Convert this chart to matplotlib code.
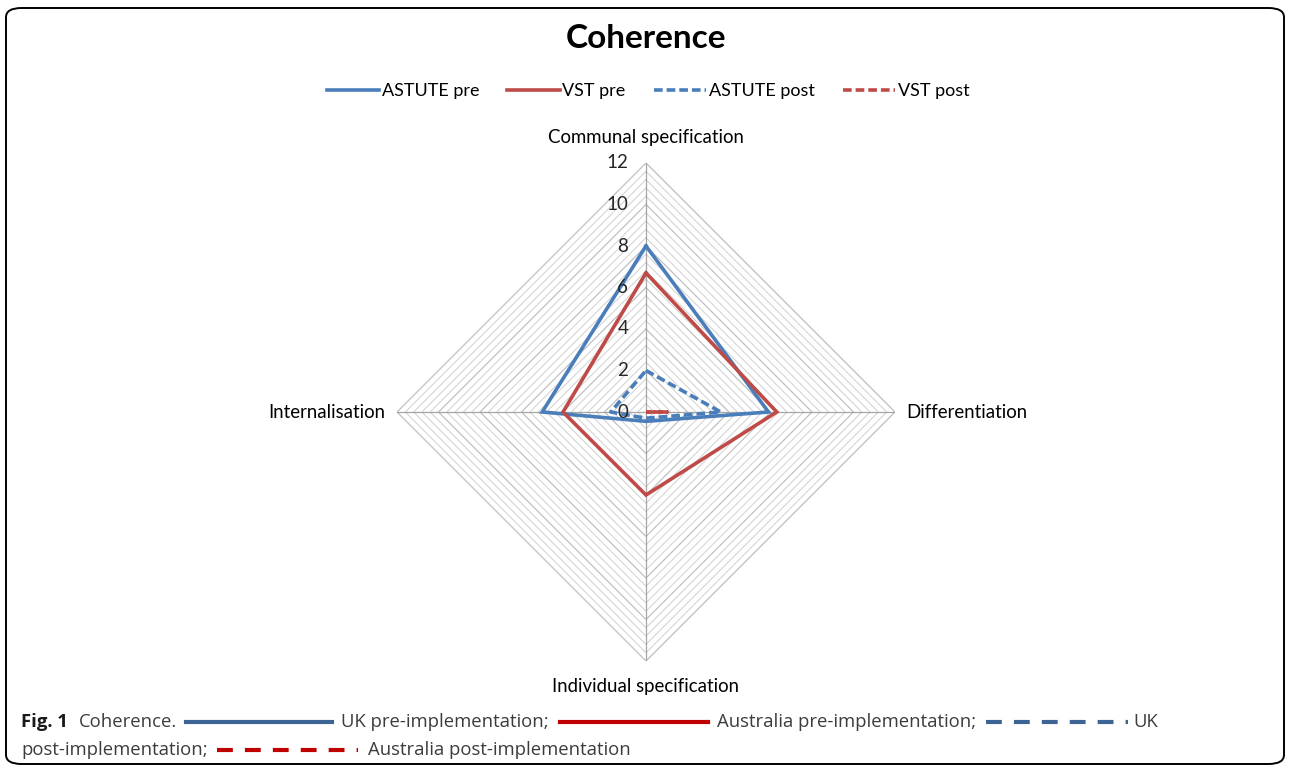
import numpy as np
import matplotlib.pyplot as plt
from matplotlib.lines import Line2D
from matplotlib.patches import FancyBboxPatch

# data
categories = ["Communal specification", "Differentiation",
              "Individual specification", "Internalisation"]
astute_pre = [8, 5.9, 0.45, 5.0]
vst_pre = [6.7, 6.3, 4.0, 4.0]
astute_post = [2.0, 3.6, 0.3, 1.7]
vst_post = [0, 1.0, 0, 0]
r_max = 12
r_major = [0, 2, 4, 6, 8, 10, 12]

series = [
    ("ASTUTE pre", astute_pre, "#4A7EBB", "-"),
    ("VST pre", vst_pre, "#BE4B48", "-"),
    ("ASTUTE post", astute_post, "#4A7EBB", (0, (2.4, 1.1))),
    ("VST post", vst_post, "#BE4B48", (0, (2.4, 1.1))),
]

plt.rcParams["font.family"] = ["Lato", "DejaVu Sans"]

# spokes clockwise from top
ang = np.deg2rad([90, 0, -90, 180])
ca, sa = np.cos(ang), np.sin(ang)

def xy(vals):
    v = np.asarray(vals, dtype=float)
    x = np.append(v * ca, v[0] * ca[0])
    y = np.append(v * sa, v[0] * sa[0])
    return x, y

fig = plt.figure(figsize=(12.9, 7.7), dpi=100)
W, H = 1290, 770
cx, cy, rad = 646, 412, 249
ax = fig.add_axes([(cx - rad) / W, (H - cy - rad) / H, 2 * rad / W, 2 * rad / H])
ax.set_xlim(-r_max, r_max)
ax.set_ylim(-r_max, r_max)
ax.set_aspect("equal")
ax.axis("off")

# grid rings (minor every 0.4, major every 2)
for lev in np.arange(0.4, r_max + 0.01, 0.4):
    gx, gy = xy([lev] * 4)
    major = abs(lev / 2 - round(lev / 2)) < 1e-6
    ax.plot(gx, gy, color="#BDBDBD" if major else "#D0D0D0",
            lw=0.85 if major else 0.7, zorder=1)
for c, s in zip(ca, sa):
    ax.plot([0, r_max * c], [0, r_max * s], color="#A6A6A6", lw=0.9, zorder=1)

for lab, vals, col, ls in series:
    sx, sy = xy(vals)
    ax.plot(sx, sy, color=col, lw=2.6, ls=ls, label=lab, zorder=3,
            solid_joinstyle="miter")

for v in r_major:
    ax.text(-0.85, v, str(v), ha="right", va="center", fontsize=13.5,
            color="#262626", zorder=4)

lab_fs = 13.4
ax.text(0, r_max + 1.25, categories[0], ha="center", va="center", fontsize=lab_fs)
ax.text(r_max + 0.55, 0, categories[1], ha="left", va="center", fontsize=lab_fs)
ax.text(0, -r_max - 1.25, categories[2], ha="center", va="center", fontsize=lab_fs)
ax.text(-r_max - 0.55, 0, categories[3], ha="right", va="center", fontsize=lab_fs)

fig.text(cx / W, 1 - 38 / H, "Coherence", ha="center", va="center",
         fontsize=24, fontweight="bold")

fig.legend(*ax.get_legend_handles_labels(), loc="center",
           bbox_to_anchor=(648 / W, 1 - 91 / H), ncol=4, frameon=False,
           fontsize=13, handlelength=2.9, handletextpad=0.15,
           columnspacing=1.55)

# rounded frame
fig.patches.append(FancyBboxPatch((6 / W, 6 / H), 1278 / W, 756 / H,
                                  boxstyle="round,pad=0,rounding_size=0.012",
                                  transform=fig.transFigure, fill=False,
                                  ec="black", lw=1.4))

# caption
cap_font = dict(family=["Open Sans", "DejaVu Sans"], fontsize=13.3,
                va="center", ha="left")
txt_col = "#3C3C3C"
y1, y2 = 1 - 722 / H, 1 - 750 / H
uk_col, au_col = "#3E6496", "#C00000"
dash = (0, (3.8, 2.9))
fig.text(21 / W, y1, "Fig. 1", fontweight="bold", color="#1A1A1A", **cap_font)
fig.text(79 / W, y1, "Coherence.", color=txt_col, **cap_font)
fig.add_artist(Line2D([186 / W, 332 / W], [y1, y1], color=uk_col, lw=3))
fig.text(341 / W, y1, "UK pre-implementation;", color=txt_col, **cap_font)
fig.add_artist(Line2D([560 / W, 708 / W], [y1, y1], color=au_col, lw=3))
fig.text(717 / W, y1, "Australia pre-implementation;", color=txt_col, **cap_font)
fig.add_artist(Line2D([986 / W, 1128 / W], [y1, y1], color=uk_col, lw=3,
                      ls=dash, dash_capstyle="butt"))
fig.text(1133 / W, y1, "UK", color=txt_col, **cap_font)
fig.text(21 / W, y2, "post-implementation;", color=txt_col, **cap_font)
fig.add_artist(Line2D([217 / W, 358 / W], [y2, y2], color=au_col, lw=3,
                      ls=dash, dash_capstyle="butt"))
fig.text(368 / W, y2, "Australia post-implementation", color=txt_col, **cap_font)

fig.savefig("out.png", dpi=100)
